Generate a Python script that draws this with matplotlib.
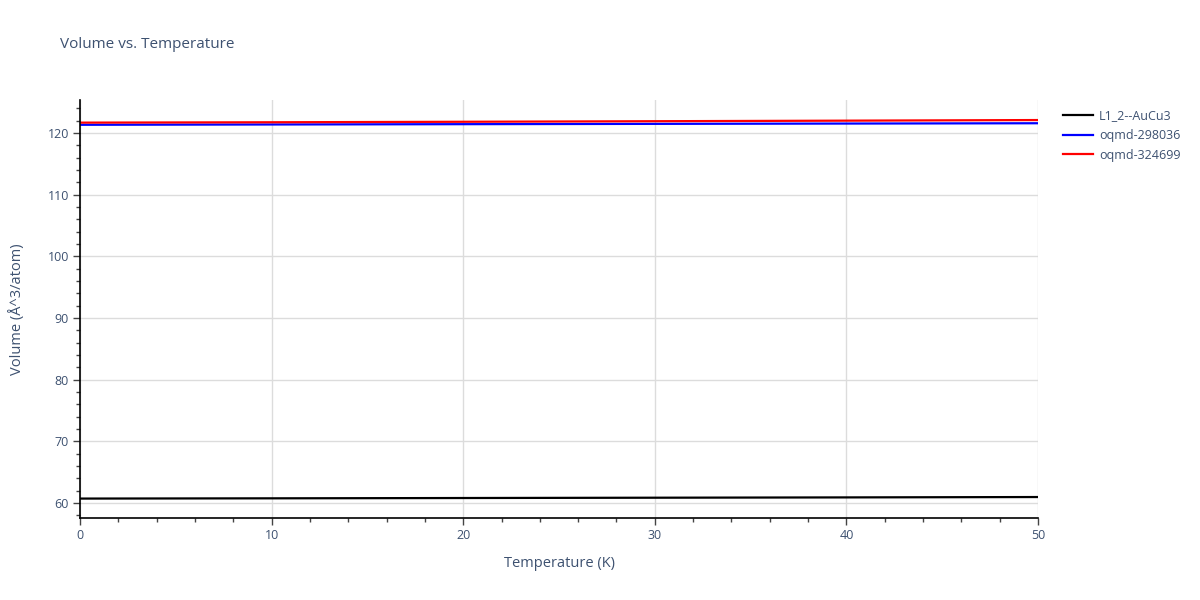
import matplotlib
matplotlib.use("Agg")
import matplotlib.pyplot as plt
from matplotlib.ticker import MultipleLocator

plt.rcParams['font.family'] = ['Open Sans', 'DejaVu Sans']

temperature = [0, 10, 20, 30, 40, 50]
vol_aucu3 = [60.72, 60.76, 60.81, 60.86, 60.91, 60.97]
vol_298036 = [121.33, 121.38, 121.43, 121.48, 121.53, 121.58]
vol_324699 = [121.68, 121.74, 121.82, 121.91, 122.0, 122.1]

series_names = ["L1_2--AuCu3", "oqmd-298036", "oqmd-324699"]
series_colors = ["black", "blue", "red"]

fig = plt.figure(figsize=(12, 6), dpi=100)
ax = fig.add_axes([80/1200, 82/600, 958/1200, 418/600])

for vals, name, col in zip([vol_aucu3, vol_298036, vol_324699], series_names, series_colors):
    ax.plot(temperature, vals, color=col, lw=1.6, label=name)

ax.set_xlim(0, 50)
ax.set_ylim(57.57, 125.35)
ax.xaxis.set_major_locator(MultipleLocator(10))
ax.xaxis.set_minor_locator(MultipleLocator(2))
ax.yaxis.set_major_locator(MultipleLocator(10))
ax.yaxis.set_minor_locator(MultipleLocator(2))
ax.grid(True, which='major', color='#dcdcdc', lw=1)
ax.set_axisbelow(True)

tc = '#3d5170'
for s in ['top', 'right']:
    ax.spines[s].set_visible(False)
for s in ['left', 'bottom']:
    ax.spines[s].set_color('black')
    ax.spines[s].set_linewidth(1.2)
ax.tick_params(which='major', direction='out', length=5, width=1, color='#444444',
               labelcolor=tc, labelsize=9, pad=3)
ax.tick_params(which='minor', direction='out', length=3, width=1, color='#444444')

ax.set_xlabel("Temperature (K)", color=tc, fontsize=10.5, labelpad=10)
ax.set_ylabel("Volume (Å^3/atom)", color=tc, fontsize=10.5, labelpad=16)

fig.text(60/1200, 1 - 45/600, "Volume vs. Temperature", color=tc, fontsize=11,
         va='center', ha='left')

leg = fig.legend(loc='upper left', bbox_to_anchor=(1058/1200, 1 - 104/600),
                 frameon=False, fontsize=9, handlelength=2.4, labelspacing=0.55,
                 handletextpad=0.5, borderaxespad=0)
for t in leg.get_texts():
    t.set_color(tc)

fig.savefig("out.png", dpi=100)
